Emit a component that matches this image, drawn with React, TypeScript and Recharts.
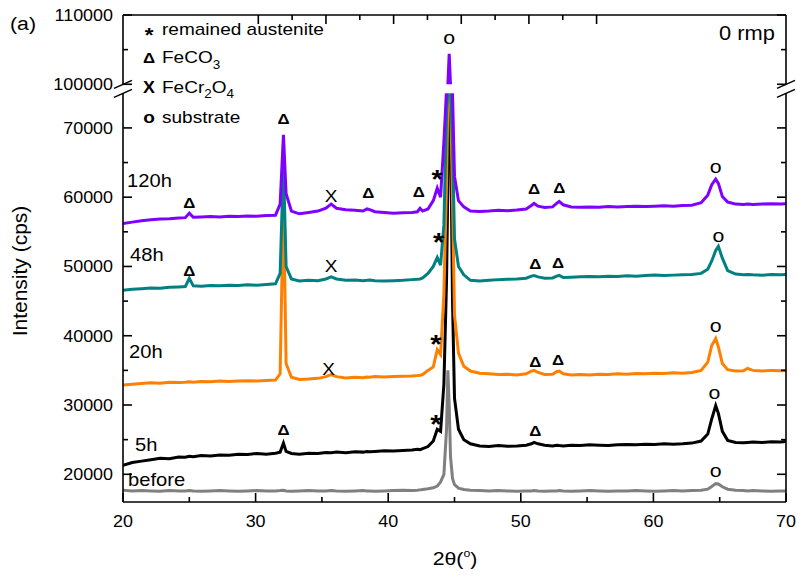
import React from "react";
import { ComposedChart, Line, Scatter, XAxis, YAxis, ReferenceArea } from "recharts";

// 2θ sampling grid (deg), shared by every pattern
const twoTheta = [
  20, 20.7, 21.4, 22.1, 22.8, 23.5, 24.2, 24.7, 25.0, 25.3,
  25.9, 26.6, 27.3, 28.0, 28.7, 29.4, 30.1, 30.8, 31.5, 31.85,
  32.1, 32.3, 32.7, 33.3, 34.0, 34.7, 35.3, 35.7, 36.1, 36.8,
  37.5, 38.1, 38.4, 38.6, 39.0, 39.7, 40.4, 41.1, 41.8, 42.2,
  42.4, 42.6, 43.0, 43.4, 43.7, 43.95, 44.2, 44.4, 44.5, 44.6,
  44.7, 44.85, 45.0, 45.3, 45.7, 46.2, 46.9, 47.6, 48.3, 49.0,
  49.7, 50.4, 50.8, 51.0, 51.3, 51.8, 52.4, 52.7, 52.9, 53.2,
  53.8, 54.5, 55.2, 55.9, 56.6, 57.3, 58.0, 58.7, 59.4, 60.1,
  60.8, 61.5, 62.2, 62.9, 63.6, 64.1, 64.4, 64.7, 64.9, 65.2,
  65.6, 66.2, 66.8, 67.1, 67.5, 68.2, 68.9, 69.6, 70,
];

// intensities (cps)
const before = [
  17700, 17600, 17650, 17600, 17550, 17650, 17600, 17600, 17650, 17600,
  17550, 17600, 17650, 17600, 17550, 17600, 17650, 17600, 17600, 17650,
  17700, 17600, 17550, 17600, 17650, 17600, 17600, 17650, 17600, 17550,
  17600, 17650, 17600, 17600, 17550, 17600, 17650, 17700, 17650, 17700,
  17750, 17800, 17900, 18050, 18300, 18900, 20000, 26500, 35000, 30000,
  22500, 19400, 18500, 18000, 17800, 17700, 17650, 17600, 17650, 17600,
  17550, 17600, 17600, 17650, 17600, 17550, 17600, 17600, 17650, 17600,
  17550, 17600, 17650, 17600, 17550, 17600, 17600, 17650, 17600, 17550,
  17600, 17650, 17600, 17650, 17700, 17850, 18250, 18650, 18600, 18200,
  17850, 17700, 17650, 17600, 17650, 17600, 17550, 17600, 17600,
];
const h5 = [
  21300, 21700, 21900, 22100, 22300, 22250, 22500, 22450, 22600, 22550,
  22700, 22650, 22800, 22750, 22900, 22850, 23000, 22900, 23050, 23200,
  24500, 23300, 23000, 22900, 23050, 23000, 23150, 23100, 23200, 23100,
  23250, 23200, 23300, 23250, 23300, 23400, 23350, 23450, 23500, 23600,
  23550, 23700, 24000, 24800, 26500, 26200, 33000, 48000, 62000, 80000,
  72000, 45000, 31000, 26500, 25000, 24400, 24100, 24000, 24150, 24050,
  24100, 24200, 24400, 24600, 24400, 24200, 24100, 24200, 24150, 24100,
  24200, 24150, 24250, 24200, 24150, 24250, 24300, 24250, 24350, 24300,
  24400, 24350, 24400, 24500, 24800, 25800, 28000, 29900, 28800, 26200,
  24900, 24600, 24550, 24600, 24650, 24600, 24700, 24650, 24750,
];
const h20 = [
  32900, 33000, 33100, 33200, 33150, 33300, 33250, 33300, 33350, 33300,
  33400, 33350, 33450, 33400, 33450, 33500, 33450, 33550, 33600, 34500,
  60000, 36000, 34000, 33700, 33750, 33850, 34100, 34400, 34100, 33900,
  34000, 33950, 34050, 34000, 34100, 34050, 34100, 34150, 34200, 34250,
  34300, 34400, 35000, 35500, 38000, 37300, 46000, 62000, 74000, 85000,
  80000, 60000, 43000, 37500, 35600, 34900, 34600, 34500, 34400, 34450,
  34350, 34500, 34900, 35000, 34700, 34400, 34450, 34800, 34900, 34500,
  34350, 34400, 34350, 34450, 34400, 34500, 34450, 34550, 34500, 34600,
  34550, 34650, 34600, 34700, 35000, 36200, 38600, 39600, 38400, 36000,
  35100, 34900, 34950, 35300, 35000, 34900, 35000, 34950, 35000,
];
const h48 = [
  46550, 46700, 46800, 46900, 46850, 47000, 47050, 47100, 48300, 47200,
  47150, 47250, 47200, 47300, 47250, 47350, 47300, 47400, 47500, 49000,
  65000, 50000, 48200, 47900, 48000, 47950, 48200, 48500, 48200, 48000,
  48050, 47950, 48000, 48050, 47950, 47900, 47950, 48000, 48100, 48150,
  48200, 48350, 49000, 50000, 51300, 50200, 56000, 72000, 84000, 90000,
  86000, 68000, 54000, 50000, 48800, 48000, 47900, 48000, 48100, 48150,
  48200, 48300, 48600, 48700, 48500, 48300, 48350, 48600, 48700, 48400,
  48450, 48500, 48550, 48500, 48600, 48550, 48650, 48600, 48700, 48750,
  48700, 48750, 48800, 48850, 49000, 49600, 50800, 52300, 52900, 51200,
  49400, 48900, 48800, 48850, 48800, 48750, 48850, 48800, 48850,
];
const h120 = [
  56200, 56400, 56600, 56750, 56850, 56900, 57000, 57050, 57700, 57100,
  57150, 57200, 57150, 57250, 57200, 57300, 57250, 57350, 57400, 59000,
  69000, 60500, 58000, 57600, 57800, 58000, 58400, 59000, 58400, 58200,
  58100, 58000, 58300, 58200, 57900, 57800, 57700, 57750, 57800, 57900,
  58400, 58000, 58300, 59500, 61300, 60000, 68000, 85000, 99000, 104400,
  97000, 75000, 63000, 59500, 58600, 58000, 57950, 58000, 58100, 58050,
  58150, 58300, 58800, 59100, 58700, 58500, 58600, 59100, 59400, 58900,
  58600, 58550, 58600, 58550, 58650, 58600, 58650, 58700, 58650, 58700,
  58750, 58700, 58800, 58850, 59200, 60300, 61800, 62600, 62000, 60100,
  59300, 59000, 58950, 59000, 58950, 59000, 59050, 59000, 59050,
];

// phase marks: [2θ, intensity at symbol centre, symbol]
const phaseMarks: [number, number, string][] = [
  [25, 59160, "Δ"], [32.1, 71280, "Δ"], [35.7, 60170, "X"], [38.5, 60600, "Δ"],
  [42.3, 60750, "Δ"], [43.7, 63560, "*"], [44.6, 106530, "o"], [51, 61250, "Δ"],
  [52.9, 61400, "Δ"], [64.7, 64200, "o"],
  [25, 49400, "Δ"], [35.7, 50060, "X"], [43.8, 54400, "*"], [51.1, 50350, "Δ"],
  [52.8, 50570, "Δ"], [64.9, 54250, "o"],
  [35.5, 35200, "X"], [43.6, 39740, "*"], [51.1, 36280, "Δ"], [52.8, 36500, "Δ"],
  [64.7, 41260, "o"],
  [32.1, 26390, "Δ"], [43.6, 28200, "*"], [51.1, 26250, "Δ"], [64.6, 31590, "o"],
  [64.7, 20330, "o"],
];

const xMajor = [20, 30, 40, 50, 60, 70];
const xMinor = [25, 35, 45, 55, 65];
const yMajor = [20000, 30000, 40000, 50000, 60000, 70000, 100000, 110000];
const yMinor = [25000, 35000, 45000, 55000, 65000, 105000];

// broken y axis: 75000..100000 collapses into a short gap
const BREAK_LO = 75000;
const BREAK_HI = 100000;
const GAP = 1300;
const toAxis = (v: number) =>
  v <= BREAK_LO ? v : v < BREAK_HI ? BREAK_LO + ((v - BREAK_LO) / (BREAK_HI - BREAK_LO)) * GAP : v - BREAK_HI + BREAK_LO + GAP;
const fromAxis = (d: number) => (d >= BREAK_LO + GAP ? Math.round(d - (BREAK_LO + GAP) + BREAK_HI) : d);

const series = [
  { key: "before", color: "#808080", values: before },
  { key: "h5", color: "#000000", values: h5 },
  { key: "h20", color: "#FF8000", values: h20 },
  { key: "h48", color: "#008080", values: h48 },
  { key: "h120", color: "#8000FF", values: h120 },
];

const rows = twoTheta.map((t, i) => {
  const r: Record<string, number> = { x: t };
  series.forEach((s) => (r[s.key] = toAxis(s.values[i])));
  return r;
});
const marks = phaseMarks.map(([t, v, s]) => ({ x: t, y: toAxis(v), s }));

const yMajorAx = yMajor.map(toAxis);
const yTicks = [...yMajor, ...yMinor].map(toAxis).sort((a, b) => a - b);
const xTicks = [...xMajor, ...xMinor].sort((a, b) => a - b);

const FONT = "'Liberation Sans', Arial, sans-serif";
const SX = 1.12;
const AX = { stroke: "#000", strokeWidth: 1.6 };

const Txt = ({ x, y, size, anchor = "start", weight = "normal", children }: any) => (
  <text
    transform={`translate(${x},${y}) scale(${SX},1)`}
    fontSize={size}
    fontFamily={FONT}
    fontWeight={weight}
    textAnchor={anchor}
    fill="#000"
  >
    {children}
  </text>
);

const LeftTick = (p: any) => {
  const major = yMajorAx.includes(p.payload.value);
  return (
    <g>
      <line x1={p.x} x2={p.x + (major ? 9 : 5)} y1={p.y} y2={p.y} {...AX} />
      {major && (
        <Txt x={p.x - 10} y={p.y + 5.8} size={16} anchor="end">
          {fromAxis(p.payload.value)}
        </Txt>
      )}
    </g>
  );
};
const RightTick = (p: any) => {
  const major = yMajorAx.includes(p.payload.value);
  return <line x1={p.x} x2={p.x - (major ? 9 : 5)} y1={p.y} y2={p.y} {...AX} />;
};
const BottomTick = (p: any) => {
  const major = xMajor.includes(p.payload.value);
  return (
    <g>
      <line x1={p.x} x2={p.x} y1={p.y} y2={p.y - (major ? 9 : 5)} {...AX} />
      {major && (
        <Txt x={p.x} y={p.y + 25} size={16} anchor="middle">
          {p.payload.value}
        </Txt>
      )}
    </g>
  );
};
const TopTick = (p: any) => {
  const major = xMajor.includes(p.payload.value);
  return <line x1={p.x} x2={p.x} y1={p.y} y2={p.y + (major ? 9 : 5)} {...AX} />;
};

// white band over the gap plus the // marks on both frame sides
const BreakMark = (p: any) => {
  const { x, y, width, height } = p;
  const slash = (cx: number, cy: number, k: string) => (
    <line key={k} x1={cx - 9} y1={cy + 4} x2={cx + 9} y2={cy - 4} stroke="#000" strokeWidth={1.4} />
  );
  return (
    <g>
      <rect x={x - 3} y={y} width={width + 6} height={height} fill="#fff" />
      {slash(x, y, "a")}
      {slash(x, y + height, "b")}
      {slash(x + width, y, "c")}
      {slash(x + width, y + height, "d")}
    </g>
  );
};

// symbol glyphs centred on their point
const SYM: Record<string, { size: number; weight: string; k: number }> = {
  "Δ": { size: 15, weight: "bold", k: 0.36 },
  X: { size: 17, weight: "normal", k: 0.36 },
  "*": { size: 26, weight: "bold", k: 0.58 },
  o: { size: 19, weight: "normal", k: 0.26 },
};
const MarkGlyph = (p: any) => {
  const st = SYM[p.payload.s];
  return (
    <Txt x={p.cx} y={p.cy + st.k * st.size} size={st.size} weight={st.weight} anchor="middle">
      {p.payload.s}
    </Txt>
  );
};

const seriesLabels = [
  { text: "120h", x: 127, y: 187 },
  { text: "48h", x: 130, y: 261 },
  { text: "20h", x: 129, y: 358 },
  { text: "5h", x: 135, y: 451 },
  { text: "before", x: 128, y: 486 },
];

export default function App() {
  return (
    <div style={{ position: "absolute", left: 0, top: 0, width: 797, height: 576, background: "#fff" }}>
      <ComposedChart width={797} height={576} data={rows} margin={{ top: 0, right: 0, bottom: 0, left: 0 }}>
        <XAxis
          dataKey="x"
          type="number"
          domain={[20, 70]}
          ticks={xTicks}
          interval={0}
          height={74}
          tickSize={0}
          tickMargin={0}
          tickLine={false}
          axisLine={AX}
          tick={BottomTick}
          allowDataOverflow
        />
        <XAxis
          xAxisId="top"
          orientation="top"
          type="number"
          domain={[20, 70]}
          ticks={xTicks}
          interval={0}
          height={15}
          tickSize={0}
          tickMargin={0}
          tickLine={false}
          axisLine={AX}
          tick={TopTick}
          allowDataOverflow
        />
        <YAxis
          type="number"
          domain={[16000, toAxis(110000)]}
          ticks={yTicks}
          interval={0}
          width={123}
          tickSize={0}
          tickMargin={0}
          tickLine={false}
          axisLine={AX}
          tick={LeftTick}
          allowDataOverflow
        />
        <YAxis
          yAxisId="right"
          orientation="right"
          type="number"
          domain={[16000, toAxis(110000)]}
          ticks={yTicks}
          interval={0}
          width={11}
          tickSize={0}
          tickMargin={0}
          tickLine={false}
          axisLine={AX}
          tick={RightTick}
          allowDataOverflow
        />
        {series.map((s) => (
          <Line
            key={s.key}
            dataKey={s.key}
            type="linear"
            stroke={s.color}
            strokeWidth={3}
            dot={false}
            isAnimationActive={false}
          />
        ))}
        <Scatter data={marks} dataKey="y" shape={MarkGlyph} isAnimationActive={false} />
        <ReferenceArea y1={BREAK_LO} y2={BREAK_LO + GAP} shape={BreakMark} zIndex={800} />
      </ComposedChart>

      <svg width={797} height={576} style={{ position: "absolute", left: 0, top: 0, pointerEvents: "none" }}>
        <Txt x={10} y={30} size={19}>(a)</Txt>
        <Txt x={719} y={40} size={19.5}>0 rmp</Txt>

        <Txt x={149} y={42} size={20} weight="bold" anchor="middle">*</Txt>
        <Txt x={162} y={35} size={17}>remained austenite</Txt>
        <Txt x={149} y={63} size={15} weight="bold" anchor="middle">Δ</Txt>
        <Txt x={162} y={63} size={17}>
          FeCO<tspan fontSize={12} dy={6}>3</tspan>
        </Txt>
        <Txt x={149} y={93} size={16} weight="bold" anchor="middle">X</Txt>
        <Txt x={162} y={93} size={17}>
          FeCr<tspan fontSize={12} dy={5}>2</tspan>
          <tspan dy={-5}>O</tspan>
          <tspan fontSize={12} dy={5}>4</tspan>
        </Txt>
        <Txt x={149} y={123} size={17} weight="bold" anchor="middle">o</Txt>
        <Txt x={162} y={123} size={17}>substrate</Txt>

        {seriesLabels.map((l) => (
          <Txt key={l.text} x={l.x} y={l.y} size={18}>
            {l.text}
          </Txt>
        ))}

        <text
          transform="translate(27,271) rotate(-90)"
          fontSize={21}
          fontFamily={FONT}
          textAnchor="middle"
          fill="#000"
        >
          Intensity (cps)
        </text>
        <Txt x={455} y={565} size={19} anchor="middle">
          2θ(<tspan fontSize={11} dy={-8}>o</tspan>
          <tspan dy={8}>)</tspan>
        </Txt>
      </svg>
    </div>
  );
}
